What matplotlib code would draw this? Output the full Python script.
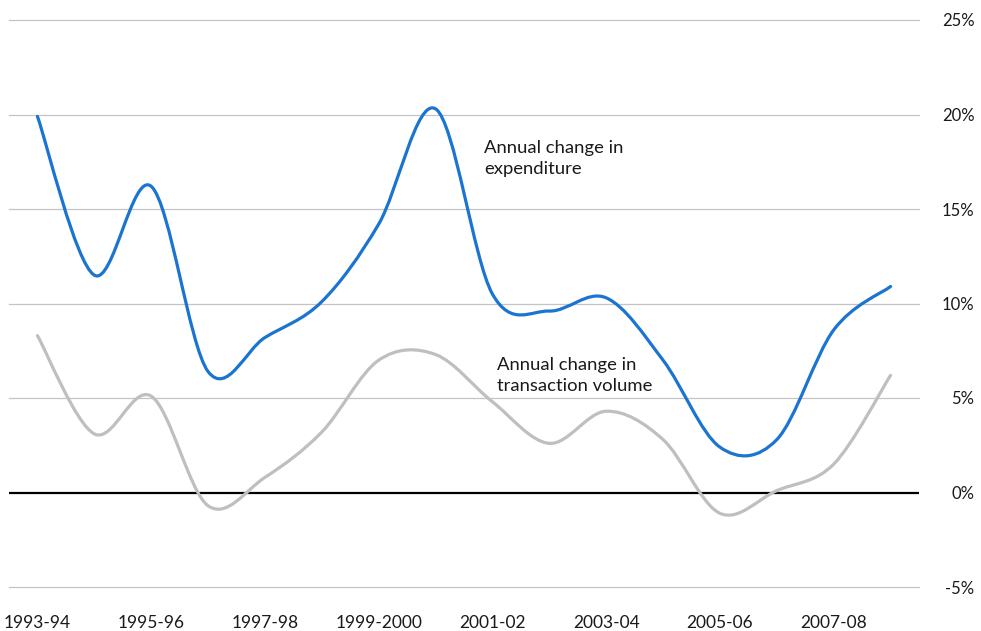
import numpy as np
import matplotlib
matplotlib.use("Agg")
import matplotlib.pyplot as plt
from matplotlib.path import Path
from matplotlib.patches import PathPatch

years = ["1993-94", "1994-95", "1995-96", "1996-97", "1997-98", "1998-99",
         "1999-2000", "2000-01", "2001-02", "2002-03", "2003-04", "2004-05",
         "2005-06", "2006-07", "2007-08", "2008-09"]
expenditure = [19.9, 11.5, 16.2, 6.4, 8.2, 10.1, 14.2, 20.3, 10.5, 9.6, 10.3,
               7.0, 2.4, 2.8, 8.6, 10.9]
volume = [8.3, 3.1, 5.1, -0.7, 0.8, 3.2, 7.0, 7.3, 4.8, 2.6, 4.3, 2.8, -1.1,
          0.1, 1.5, 6.2]
yticks = [-5, 0, 5, 10, 15, 20, 25]
ytick_labels = ["-5%", "0%", "5%", "10%", "15%", "20%", "25%"]

plt.rcParams['font.family'] = ['Lato', 'DejaVu Sans']

W, H = 981, 631
fig = plt.figure(figsize=(W / 100, H / 100), dpi=100)
ax = fig.add_axes([9 / W, 1 - 587 / H, (919 - 9) / W, (587 - 20) / H])


def smooth_path(xs, ys):
    pts = np.column_stack([xs, ys]).astype(float)
    n = len(pts)
    verts = [pts[0]]
    codes = [Path.MOVETO]
    for i in range(n - 1):
        p0 = pts[i - 1] if i > 0 else pts[i]
        p1 = pts[i]
        p2 = pts[i + 1]
        p3 = pts[i + 2] if i + 2 < n else pts[i + 1]
        c1 = p1 + (p2 - p0) / 6.0
        c2 = p2 - (p3 - p1) / 6.0
        verts += [c1, c2, p2]
        codes += [Path.CURVE4] * 3
    return Path(verts, codes)


x = np.arange(len(years))
for yy in yticks:
    if yy != 0:
        ax.axhline(yy, color="#c4c4c4", lw=0.9, zorder=1, clip_on=False)
ax.axhline(0, color="black", lw=1.6, zorder=2)

ax.add_patch(PathPatch(smooth_path(x, volume), fill=False, edgecolor="#BFBFBF",
                       lw=2.3, capstyle="round", zorder=3))
ax.add_patch(PathPatch(smooth_path(x, expenditure), fill=False,
                       edgecolor="#1B74D0", lw=2.3, capstyle="round", zorder=4))

ax.set_xlim(-0.5, len(years) - 0.5)
ax.set_ylim(-5, 25)
for s in ax.spines.values():
    s.set_visible(False)

ax.set_xticks(x[::2])
ax.set_xticklabels(years[::2], fontsize=12.5, color="#1a1a1a")
ax.tick_params(axis="x", length=0, pad=20)

ax.yaxis.tick_right()
ax.set_yticks(yticks)
ax.set_yticklabels(ytick_labels, fontsize=12, color="#1a1a1a", ha="right")
ax.tick_params(axis="y", length=0, pad=40)

ax.text(7.85, 17.67, "Annual change in\nexpenditure", fontsize=13.3,
        color="#1a1a1a", va="center", ha="left", linespacing=1.4)
ax.text(8.08, 6.2, "Annual change in\ntransaction volume", fontsize=13.3,
        color="#1a1a1a", va="center", ha="left", linespacing=1.4)

fig.savefig("out.png", dpi=100)
